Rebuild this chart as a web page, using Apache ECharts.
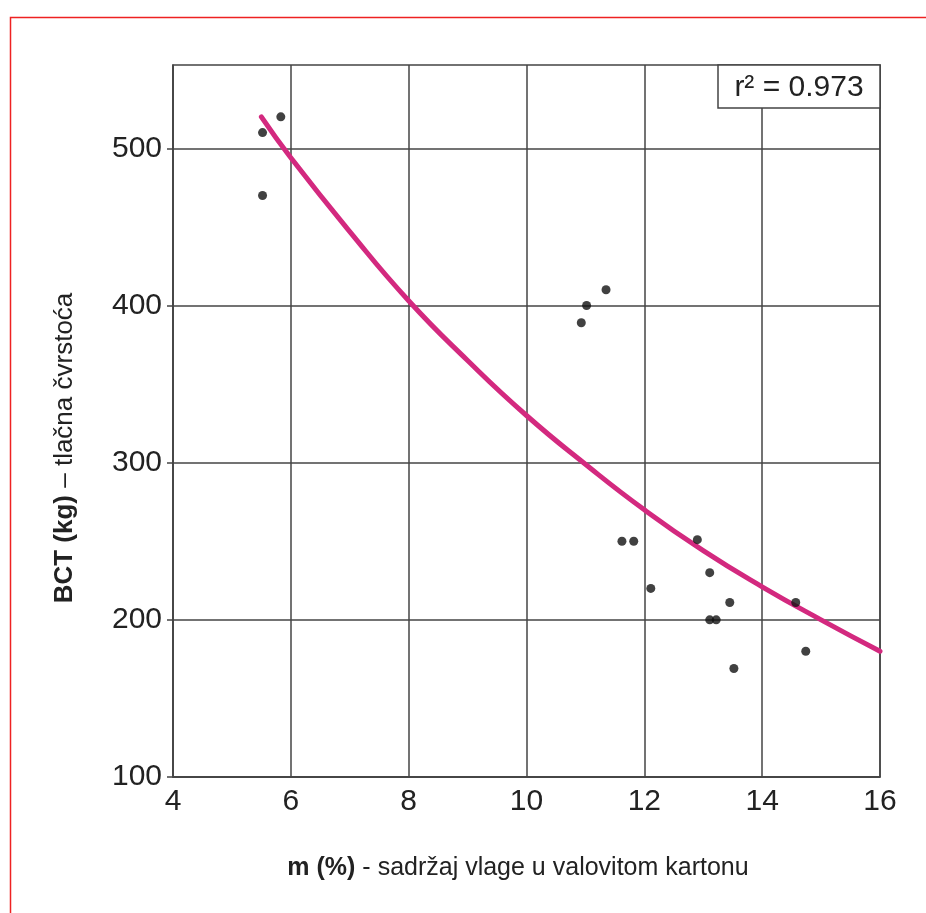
<!DOCTYPE html>
<html>
<head>
<meta charset="utf-8">
<script src="https://cdn.jsdelivr.net/npm/echarts@6/dist/echarts.min.js"></script>
<style>
html,body{margin:0;padding:0;background:#fff;}
#chart{width:926px;height:913px;}
</style>
</head>
<body>
<div id="chart"></div>
<script>
// Measured points: moisture content m (%) vs BCT (kg)
const pointX = [5.52, 5.52, 5.83, 10.93, 11.02, 11.35, 11.62, 11.82, 12.11, 12.90, 13.11, 13.11, 13.22, 13.45, 13.52, 14.57, 14.74];
const pointY = [510, 470, 520, 389, 400, 410, 250, 250, 220, 251, 230, 200, 200, 211, 169, 211, 180];
// Fitted curve
const curveX = [5.5, 6, 7, 8, 9, 10, 11, 12, 13, 14, 15, 16];
const curveY = [520, 494, 447, 403, 365, 330, 299, 270, 244, 221, 200, 180];
const xTicks = [4, 6, 8, 10, 12, 14, 16];
const yTicks = [100, 200, 300, 400, 500];
const rSquaredText = 'r\u00B2 = 0.973';
const xTitleBold = 'm (%)';
const xTitleRest = ' - sadržaj vlage u valovitom kartonu';
const yTitleBold = 'BCT (kg)';
const yTitleRest = ' \u2013 tlačna čvrstoća';

const FONT = '"Liberation Sans", Arial, Helvetica, sans-serif';
const chart = echarts.init(document.getElementById('chart'), null, {renderer: 'canvas'});

const option = {
  backgroundColor: '#ffffff',
  animation: false,
  grid: {
    left: 173, right: 46, top: 65, bottom: 136,
    show: true, borderColor: '#444', borderWidth: 1.5, backgroundColor: 'transparent'
  },
  xAxis: {
    type: 'value', min: xTicks[0], max: xTicks[xTicks.length - 1], interval: 2,
    axisLine: {show: true, onZero: false, lineStyle: {color: '#444', width: 1.5}},
    axisTick: {show: false},
    splitLine: {show: true, lineStyle: {color: '#444', width: 1.5}},
    axisLabel: {color: '#222', fontSize: 30, fontFamily: FONT, margin: 10}
  },
  yAxis: {
    type: 'value', min: yTicks[0], max: 553, interval: 100,
    axisLine: {show: true, lineStyle: {color: '#444', width: 1.5}},
    axisTick: {show: true, inside: false, length: 6, customValues: yTicks, lineStyle: {color: '#444', width: 1.5}},
    splitLine: {show: true, lineStyle: {color: '#444', width: 1.5}},
    axisLabel: {
      color: '#222', fontSize: 30, fontFamily: FONT, margin: 11,
      customValues: yTicks,
      formatter: function (v) { return (v % 100 === 0) ? String(v) : ''; }
    }
  },
  series: [
    {
      type: 'line',
      data: curveX.map((x, i) => [x, curveY[i]]),
      smooth: 0.5,
      showSymbol: false,
      lineStyle: {color: '#d3297f', width: 5, cap: 'round'},
      z: 3
    },
    {
      type: 'scatter',
      data: pointX.map((x, i) => [x, pointY[i]]),
      symbol: 'circle',
      symbolSize: 9,
      itemStyle: {color: '#111'},
      z: 4
    }
  ],
  graphic: [
    {
      type: 'rect', left: 8, top: 15, z: 0,
      shape: {width: 1200, height: 1200},
      style: {fill: 'none', stroke: '#ee2222', lineWidth: 1.5}
    },
    {
      type: 'rect', z: 10,
      shape: {x: 718, y: 65, width: 162, height: 43},
      style: {fill: '#ffffff', stroke: '#444', lineWidth: 1.5}
    },
    {
      type: 'text', z: 11, x: 799, y: 88,
      style: {text: rSquaredText, fill: '#222', font: '30px ' + FONT, align: 'center', verticalAlign: 'middle'}
    },
    {
      type: 'text', z: 11, x: 518, y: 868,
      style: {
        text: '{b|' + xTitleBold + '}{n|' + xTitleRest + '}',
        align: 'center', verticalAlign: 'middle',
        rich: {
          b: {fontSize: 25, fontWeight: 'bold', fontFamily: FONT, fill: '#222'},
          n: {fontSize: 25, fontFamily: FONT, fill: '#222'}
        }
      }
    },
    {
      type: 'text', z: 11, x: 65, y: 448, rotation: Math.PI / 2,
      style: {
        text: '{b|' + yTitleBold + '}{n|' + yTitleRest + '}',
        align: 'center', verticalAlign: 'middle',
        rich: {
          b: {fontSize: 26, fontWeight: 'bold', fontFamily: FONT, fill: '#222'},
          n: {fontSize: 26, fontFamily: FONT, fill: '#222'}
        }
      }
    }
  ]
};
chart.setOption(option);
</script>
</body>
</html>
